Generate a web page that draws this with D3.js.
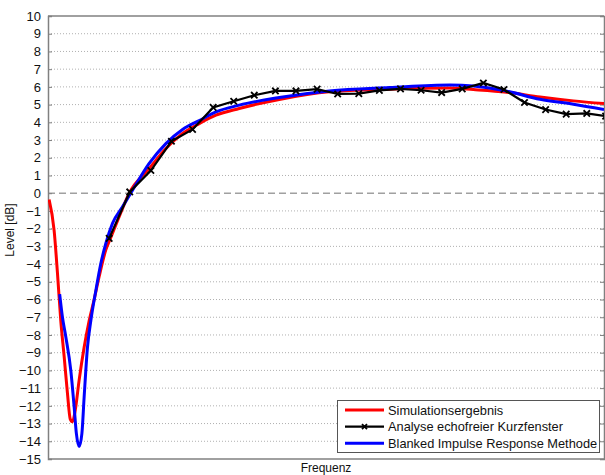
<!DOCTYPE html>
<html>
<head>
<meta charset="utf-8">
<script src="https://cdnjs.cloudflare.com/ajax/libs/d3/7.8.5/d3.min.js"></script>
<style>
  body { margin: 0; background: #fff; }
  svg { display: block; font-family: "Liberation Sans", Arial, sans-serif; }
</style>
</head>
<body>
<div id="chart"></div>
<script>
//#region data
// frequency in relative units (0..100), level in dB
let simFreq  = [0.2, 1.1, 1.7, 2.3, 2.9, 3.5, 4.0, 4.4, 4.9, 5.6, 6.5, 7.4, 8.3, 9.2, 10.4, 11.3, 12.8, 14.6, 18.2, 21.2, 24.2, 27.2, 30.2, 34.4, 41.6, 50.6, 61.4, 72.3, 76.5, 82.5, 88.5, 94.5, 100];
let simLevel = [-0.36, -2.1, -4.5, -7.2, -9.2, -11.3, -12.75, -12.9, -12.25, -10.55, -8.7, -7.2, -6.0, -4.7, -3.2, -2.5, -1.33, 0.0, 1.39, 2.52, 3.37, 3.93, 4.4, 4.78, 5.29, 5.72, 5.87, 5.93, 5.85, 5.7, 5.43, 5.21, 5.06];

let akfFreq  = [11.0, 14.7, 18.5, 22.2, 26.0, 29.7, 33.4, 37.1, 40.9, 44.6, 48.4, 52.1, 55.9, 59.6, 63.4, 67.1, 70.8, 74.5, 78.3, 82.0, 85.7, 89.5, 93.2, 96.9, 100.3];
let akfLevel = [-2.55, 0.07, 1.28, 2.93, 3.6, 4.84, 5.19, 5.53, 5.77, 5.77, 5.87, 5.6, 5.62, 5.8, 5.89, 5.81, 5.68, 5.89, 6.22, 5.85, 5.12, 4.72, 4.46, 4.5, 4.35];

let birFreq  = [2.1, 2.6, 3.2, 4.1, 4.7, 5.1, 5.6, 6.1, 6.5, 7.1, 7.7, 8.6, 9.5, 10.4, 11.6, 13.4, 15.2, 18.2, 21.2, 24.2, 27.2, 30.2, 34.4, 41.6, 50.6, 61.4, 72.3, 76.5, 82.5, 88.5, 94.5, 100];
let birLevel = [-5.7, -7.0, -8.1, -10.0, -12.05, -13.55, -14.3, -13.55, -11.5, -8.7, -7.2, -5.5, -3.97, -2.84, -1.7, -0.77, 0.17, 1.68, 2.8, 3.6, 4.1, 4.59, 4.97, 5.4, 5.77, 5.96, 6.1, 6.05, 5.76, 5.3, 5.02, 4.72];

let yTicks = d3.range(-15, 11);
let legendNames = ['Simulationsergebnis', 'Analyse echofreier Kurzfenster', 'Blanked Impulse Response Methode'];
let legendColors = ['#ff0000', '#000000', '#0000ff'];
//#endregion

//#region variables
let width = 605,
    height = 475,
    plotLeft = 48,
    plotRight = 604,
    plotTop = 16,
    plotBottom = 459;
//#endregion

let svg = d3.select('#chart')
    .append('svg')
    .attr('width', width)
    .attr('height', height);

svg.append('defs').append('clipPath')
    .attr('id', 'plot')
    .append('rect')
    .attr('x', plotLeft)
    .attr('y', plotTop)
    .attr('width', plotRight - plotLeft)
    .attr('height', plotBottom - plotTop);

let xScale = d3.scaleLinear().domain([0, 100]).range([plotLeft, plotRight]);
let yScale = d3.scaleLinear().domain([-15, 10]).range([plotBottom, plotTop]);

//#region grid
svg.append('g')
    .selectAll('line')
    .data(yTicks.filter(d => d !== 0 && d !== 10 && d !== -15))
    .enter()
    .append('line')
    .attr('x1', plotLeft)
    .attr('x2', plotRight)
    .attr('y1', d => yScale(d))
    .attr('y2', d => yScale(d))
    .attr('stroke', '#b0b0b0')
    .attr('stroke-width', 1)
    .attr('stroke-dasharray', '1,2');

svg.append('line')
    .attr('x1', plotLeft)
    .attr('x2', plotRight)
    .attr('y1', yScale(0))
    .attr('y2', yScale(0))
    .attr('stroke', '#a0a0a0')
    .attr('stroke-width', 1.6)
    .attr('stroke-dasharray', '7,4');
//#endregion

//#region axes
let axisY = d3.axisLeft(yScale).tickValues(yTicks).tickSize(-4).tickPadding(7);
let gy = svg.append('g')
    .attr('transform', `translate(${plotLeft}, 0)`)
    .call(axisY);
gy.select('.domain').attr('stroke', '#808080').attr('stroke-width', 1.5);
gy.selectAll('.tick line').attr('stroke', '#808080');
gy.selectAll('.tick text')
    .attr('font-size', 13)
    .attr('fill', '#111')
    .attr('font-family', '"Liberation Sans", Arial, sans-serif');

let axisR = d3.axisRight(yScale).tickValues(yTicks).tickSize(-4).tickFormat('');
let gr = svg.append('g')
    .attr('transform', `translate(${plotRight}, 0)`)
    .call(axisR);
gr.select('.domain').attr('stroke', '#808080').attr('stroke-width', 1.5);
gr.selectAll('.tick line').attr('stroke', '#808080');

svg.append('line')
    .attr('x1', plotLeft).attr('x2', plotRight)
    .attr('y1', plotTop).attr('y2', plotTop)
    .attr('stroke', '#808080').attr('stroke-width', 1.5);
svg.append('line')
    .attr('x1', plotLeft).attr('x2', plotRight)
    .attr('y1', plotBottom).attr('y2', plotBottom)
    .attr('stroke', '#808080').attr('stroke-width', 1.5);

svg.append('text')
    .attr('transform', `translate(14, 230) rotate(-90)`)
    .attr('text-anchor', 'middle')
    .attr('font-size', 12)
    .attr('fill', '#111')
    .text('Level [dB]');

svg.append('text')
    .attr('x', (plotLeft + plotRight) / 2)
    .attr('y', 472)
    .attr('text-anchor', 'middle')
    .attr('font-size', 12)
    .attr('fill', '#111')
    .text('Frequenz');
//#endregion

//#region lines
let line = d3.line()
    .x(d => xScale(d[0]))
    .y(d => yScale(d[1]))
    .curve(d3.curveMonotoneX);

let plot = svg.append('g').attr('clip-path', 'url(#plot)');

plot.append('path')
    .datum(simFreq.map((f, i) => [f, simLevel[i]]))
    .attr('d', line)
    .attr('fill', 'none')
    .attr('stroke', legendColors[0])
    .attr('stroke-width', 3)
    .attr('stroke-linejoin', 'round');

plot.append('path')
    .datum(birFreq.map((f, i) => [f, birLevel[i]]))
    .attr('d', line)
    .attr('fill', 'none')
    .attr('stroke', legendColors[2])
    .attr('stroke-width', 3)
    .attr('stroke-linejoin', 'round');

let akf = akfFreq.map((f, i) => [f, akfLevel[i]]);
plot.append('path')
    .datum(akf)
    .attr('d', line.curve(d3.curveLinear))
    .attr('fill', 'none')
    .attr('stroke', legendColors[1])
    .attr('stroke-width', 2.2);

let s = 3.2;
plot.selectAll('path.marker')
    .data(akf)
    .enter()
    .append('path')
    .attr('class', 'marker')
    .attr('d', d => {
        let x = xScale(d[0]), y = yScale(d[1]);
        return `M${x - s},${y - s}L${x + s},${y + s}M${x - s},${y + s}L${x + s},${y - s}`;
    })
    .attr('stroke', '#000')
    .attr('stroke-width', 1.8);
//#endregion

//#region legend
let legend = svg.append('g');
legend.append('rect')
    .attr('x', 337.5)
    .attr('y', 400.5)
    .attr('width', 262)
    .attr('height', 52)
    .attr('fill', '#fff')
    .attr('stroke', '#555')
    .attr('stroke-width', 1);

let items = legend.selectAll('g.item')
    .data(legendNames)
    .enter()
    .append('g')
    .attr('transform', (d, i) => `translate(0, ${410 + i * 16.6})`);

items.append('line')
    .attr('x1', 345).attr('x2', 384)
    .attr('y1', 0).attr('y2', 0)
    .attr('stroke', (d, i) => legendColors[i])
    .attr('stroke-width', (d, i) => i === 1 ? 2.2 : 3);

legend.append('path')
    .attr('d', `M${364.5 - 2.5},${426.6 - 2.5}L${364.5 + 2.5},${426.6 + 2.5}M${364.5 - 2.5},${426.6 + 2.5}L${364.5 + 2.5},${426.6 - 2.5}`)
    .attr('stroke', '#000')
    .attr('stroke-width', 1.8);

items.append('text')
    .attr('x', 388)
    .attr('y', 0)
    .attr('dy', '0.36em')
    .attr('font-size', 12.8)
    .attr('fill', '#111')
    .text(d => d);
//#endregion
</script>
</body>
</html>
